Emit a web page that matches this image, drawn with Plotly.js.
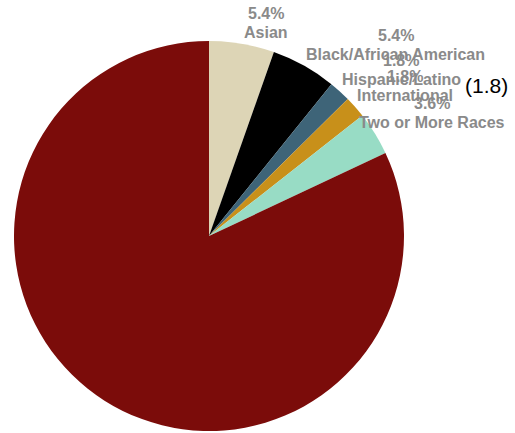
<!DOCTYPE html>
<html>
<head>
<meta charset="utf-8">
<script src="https://cdn.plot.ly/plotly-3.0.1.min.js"></script>
<style>html,body{margin:0;padding:0;background:#fff;}#chart{width:515px;height:433px;}</style>
</head>
<body>
<div id="chart"></div>
<script>
const categories = ["Asian", "Black/African American", "Hispanic/Latino", "International", "Two or More Races", "White"];
const values = [5.4, 5.4, 1.8, 1.8, 3.6, 82.0];
const showLabel = [true, true, true, true, true, false];
const colors = ["#ddd5b6", "#000000", "#3e6478", "#c8901a", "#98dcc5", "#7b0c0a"];
const extraNote = "(1.8)";

const W = 515, H = 433;
const dom = {x: [14 / W, 404 / W], y: [2 / H, 392 / H]};
const LABEL_FONT = "Liberation Sans, Arial, sans-serif";
const LABEL_SIZE = 16;
const LABEL_COLOR = "#8a8a8a";

const trace = {
  type: "pie",
  labels: categories,
  values: values,
  textinfo: "none",
  sort: false,
  direction: "clockwise",
  rotation: 0,
  marker: {colors: colors, line: {width: 0}},
  hoverinfo: "label+percent",
  domain: dom,
  showlegend: false
};

// label placement derived from the slice angles
const ctx = document.createElement("canvas").getContext("2d");
ctx.font = "bold " + LABEL_SIZE + "px 'Liberation Sans'";
const cx = (dom.x[0] + dom.x[1]) / 2 * W;
const cy = (1 - (dom.y[0] + dom.y[1]) / 2) * H;
const R = (dom.x[1] - dom.x[0]) * W / 2;
const total = values.reduce((a, b) => a + b, 0);
const annotations = [];
let cum = 0;
values.forEach((v, i) => {
  const mid = (cum + v / 2) / total * 2 * Math.PI;
  cum += v;
  if (!showLabel[i]) return;
  const pct = (v / total * 100).toFixed(1) + "%";
  const px = cx + R * Math.sin(mid);
  const py = cy - R * Math.cos(mid);
  const w = Math.max(ctx.measureText(pct).width, ctx.measureText(categories[i]).width);
  let left = px + 2;
  if (left + w > W - 10) left = W - 10 - w;
  const centerX = left + w / 2;
  const blockY = py - 21;
  [[pct, blockY - 9.5], [categories[i], blockY + 9.5]].forEach(([t, y]) => {
    annotations.push({
      text: "<b>" + t + "</b>", xref: "paper", yref: "paper",
      x: centerX / W, y: 1 - y / H, xanchor: "center", yanchor: "middle",
      showarrow: false, borderpad: 0,
      font: {family: LABEL_FONT, size: LABEL_SIZE, color: LABEL_COLOR}
    });
  });
});

annotations.push({
  text: extraNote, xref: "paper", yref: "paper", x: 509 / W, y: 1 - 86 / H,
  xanchor: "right", yanchor: "middle", showarrow: false, borderpad: 0,
  font: {family: LABEL_FONT, size: 21, color: "#000000"}
});

const layout = {
  width: W, height: H,
  margin: {l: 0, r: 0, t: 0, b: 0},
  paper_bgcolor: "#ffffff",
  showlegend: false,
  annotations: annotations
};

Plotly.newPlot("chart", [trace], layout, {displayModeBar: false, staticPlot: true});
</script>
</body>
</html>
